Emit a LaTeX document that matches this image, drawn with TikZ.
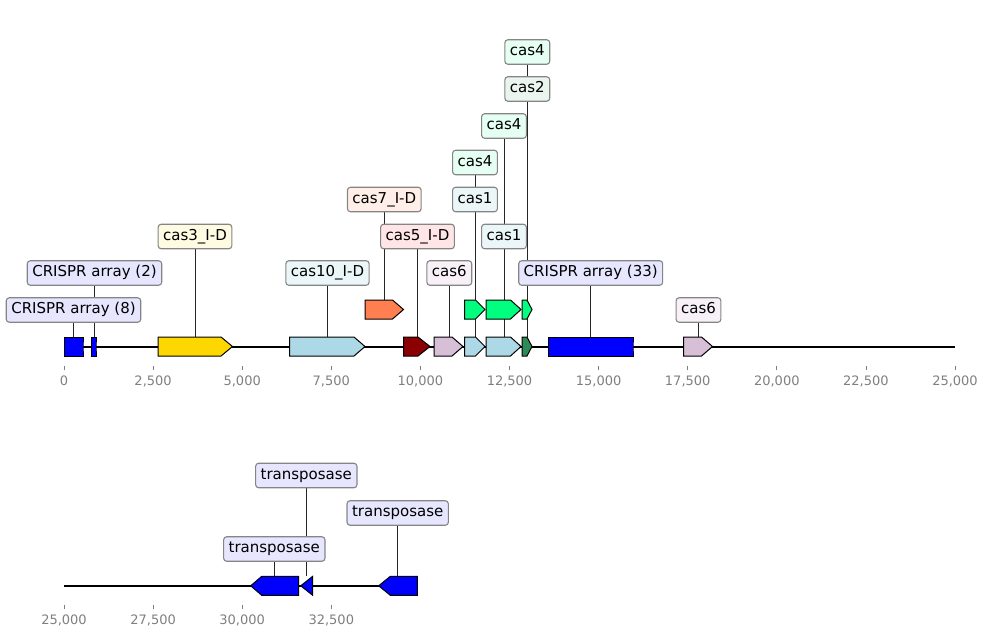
\documentclass[tikz,border=0pt]{standalone}
\usepackage{fontspec}
\setmainfont{DejaVu Sans}
\usepackage{tikz}
\usetikzlibrary{positioning,backgrounds}

\definecolor{lblborder}{HTML}{858585}
\definecolor{tickgray}{HTML}{7F7F7F}
\definecolor{crisprlbl}{HTML}{E6E6FF}
\definecolor{cassyellow}{HTML}{FFFAE2}
\definecolor{casblue}{HTML}{EBF6F9}
\definecolor{cascoral}{HTML}{FFEFE8}
\definecolor{casred}{HTML}{FFE5E5}
\definecolor{casthistle}{HTML}{F7F1F7}
\definecolor{casmint}{HTML}{E5FFF2}
\definecolor{casgreen}{HTML}{EBF5EF}
\definecolor{springgrn}{HTML}{00FF7F}
\definecolor{seagrn}{HTML}{2E8B57}
\definecolor{goldyel}{HTML}{FFD700}
\definecolor{paleblue}{HTML}{ADD8E6}
\definecolor{deepred}{HTML}{8B0000}
\definecolor{lilac}{HTML}{D8BFD8}
\definecolor{coralred}{HTML}{FF7F50}
\definecolor{arrayblue}{HTML}{0000FF}

% name, start, head start, tip, middle y, colour, leader x
\newcommand{\gene}[7]{%
  \draw[genebox,fill=#6] (#2,#5-9.5) -- (#3,#5-9.5) -- (#4,#5) -- (#3,#5+9.5) -- (#2,#5+9.5) -- cycle;
  \coordinate (#1) at (#7,#5-9.5);}

\begin{document}
\begin{tikzpicture}[x=1pt,y=-1pt,
  genebox/.style={draw=black,line width=1pt},
  lbl/.style={draw=lblborder,line width=1.1pt,rounded corners=3pt,inner xsep=5pt,inner ysep=0pt,
    minimum height=24.5pt,text height=11.3pt,text depth=3.6pt,font=\fontsize{15}{18}\selectfont},
  lead/.style={line width=0.8pt,black!85},
  ticker/.style={tickgray,line width=0.8pt},
  ticklbl/.style={text=tickgray,inner sep=0pt,font=\fontsize{13}{15}\selectfont}]
  \useasboundingbox (0,0) rectangle (988,638);

  \draw[line width=2pt] (64,346.8) -- (955,346.8);
  \draw[line width=2pt] (64,585.8) -- (417.3,585.8);

  \gene{c8}{64}{83}{83}{346.5}{arrayblue}{73.5}
  \gene{c2}{91}{96}{96}{346.5}{arrayblue}{94.5}
  \gene{cas3}{158}{221}{232.5}{346.5}{goldyel}{195}
  \gene{cas10}{289.5}{354}{365}{346.5}{paleblue}{327.5}
  \gene{cas5}{403.5}{418}{430}{346.5}{deepred}{417.5}
  \gene{cas6a}{434}{452}{463}{346.5}{lilac}{449.3}
  \gene{cas1a}{464.5}{475.5}{485}{346.5}{paleblue}{475}
  \gene{cas1b}{486}{510.5}{521}{346.5}{paleblue}{504}
  \gene{cas2}{522}{527}{532}{346.5}{seagrn}{527.3}
  \gene{c33}{548.5}{633}{633}{346.5}{arrayblue}{590.7}
  \gene{cas6b}{683.5}{701.5}{712.5}{346.5}{lilac}{698.5}
  \gene{cas7}{365}{392.5}{403.5}{309.5}{coralred}{384.3}
  \gene{cas4a}{464.5}{475.5}{485}{309.5}{springgrn}{475}
  \gene{cas4b}{486}{510.5}{521}{309.5}{springgrn}{504}
  \gene{cas4c}{522}{527}{532}{309.5}{springgrn}{527.3}
  \gene{tnpA}{298.7}{261.7}{250.7}{585.8}{arrayblue}{274.3}
  \gene{tnpB}{312.7}{312.7}{300.7}{585.8}{arrayblue}{306.3}
  \gene{tnpC}{417.3}{390.3}{378.7}{585.8}{arrayblue}{397.7}

  \node[lbl,fill=crisprlbl] (lc8) at (73.5,310) {CRISPR array (8)};
  \node[lbl,fill=crisprlbl] (lc2) at (94.5,273) {CRISPR array (2)};
  \node[lbl,fill=cassyellow] (lcas3) at (195,236.5) {cas3\_I-D};
  \node[lbl,fill=casblue] (lcas10) at (327.5,273) {cas10\_I-D};
  \node[lbl,fill=cascoral] (lcas7) at (384.3,199.5) {cas7\_I-D};
  \node[lbl,fill=casred] (lcas5) at (417.5,236.5) {cas5\_I-D};
  \node[lbl,fill=casthistle] (lcas6a) at (449.3,273) {cas6};
  \node[lbl,fill=casmint] (lcas4a) at (475,162.5) {cas4};
  \node[lbl,fill=casblue] (lcas1a) at (475,199.5) {cas1};
  \node[lbl,fill=casmint] (lcas4b) at (504,126) {cas4};
  \node[lbl,fill=casblue] (lcas1b) at (504,236.5) {cas1};
  \node[lbl,fill=casmint] (lcas4c) at (527.3,52) {cas4};
  \node[lbl,fill=casgreen] (lcas2) at (527.3,89) {cas2};
  \node[lbl,fill=crisprlbl] (lc33) at (590.7,273) {CRISPR array (33)};
  \node[lbl,fill=casthistle] (lcas6b) at (698.5,310) {cas6};
  \node[lbl,fill=crisprlbl] (ltnpA) at (274.3,549) {transposase};
  \node[lbl,fill=crisprlbl] (ltnpB) at (306.3,475.5) {transposase};
  \node[lbl,fill=crisprlbl] (ltnpC) at (397.7,513) {transposase};

  \begin{pgfonlayer}{background}
    \foreach \g in {c8,c2,cas3,cas10,cas5,cas6a,cas1a,cas1b,cas2,c33,cas6b,cas7,cas4a,cas4b,cas4c,tnpA,tnpB,tnpC}
      \draw[lead] (l\g) -- (\g);
  \end{pgfonlayer}

  \foreach \i/\txt in {0/0,1/{2,500},2/{5,000},3/{7,500},4/{10,000},5/{12,500},6/{15,000},7/{17,500},8/{20,000},9/{22,500},10/{25,000}} {
    \draw[ticker] (64+\i*89.1,366) -- (64+\i*89.1,370);
    \node[ticklbl] (top\i) at (64+\i*89.1,381) {\txt};
  }
  \foreach \i/\txt in {0/{25,000},1/{27,500},2/{30,000},3/{32,500}} {
    \draw[ticker] (64+\i*89.1,604.5) -- (64+\i*89.1,608.5);
    \node[ticklbl] (bot\i) at (64+\i*89.1,620) {\txt};
  }
\end{tikzpicture}
\end{document}
